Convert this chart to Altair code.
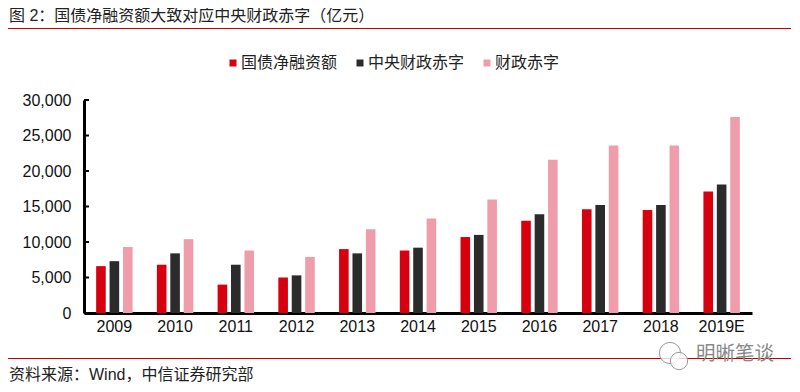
import altair as alt
import pandas as pd

years = ["2009","2010","2011","2012","2013","2014","2015","2016","2017","2018","2019E"]
bond = [6600,6800,4000,5000,9000,8800,10700,13000,14600,14500,17100]
central = [7300,8400,6800,5300,8400,9200,11000,13900,15200,15200,18100]
deficit = [9300,10400,8800,7900,11800,13300,16000,21600,23600,23600,27600]
series = ["国债净融资额","中央财政赤字","财政赤字"]
colors = ["#D7000F","#2B2B2B","#F09DAB"]
y_ticks = [0,5000,10000,15000,20000,25000,30000]
title_text = "图 2：国债净融资额大致对应中央财政赤字（亿元）"
source_text = "资料来源：Wind，中信证券研究部"
watermark = "明晰笔谈"

CJK = "Liberation Sans, Noto Sans CJK SC"
LAT = "Liberation Sans"
L, T = 76, 92  # padding: plot origin at page (84,100)
W, H = 668, 213

rows = []
for i, y in enumerate(years):
    for s, vals in zip(series, [bond, central, deficit]):
        rows.append({"year": y, "series": s, "value": vals[i]})
df = pd.DataFrame(rows)

y_scale = alt.Scale(domain=[0,30000], nice=False)
y_axis = alt.Axis(values=y_ticks, format=",d",
                  labelFont=LAT, labelFontSize=16, labelColor="#111111", grid=False,
                  domainColor="#000000", domainWidth=3, ticks=False,
                  labelPadding=13, labelBaseline="middle")

bars = alt.Chart(df).mark_bar(size=9.6).encode(
    x=alt.X("year:N", sort=years, title=None,
            scale=alt.Scale(paddingInner=0.4, paddingOuter=0.2),
            axis=alt.Axis(labelAngle=0, labelFont=LAT, labelFontSize=16, labelColor="#111111",
                          ticks=False, domainColor="#000000", domainWidth=3, labelPadding=5, grid=False)),
    xOffset=alt.XOffset("series:N", sort=series, scale=alt.Scale(paddingInner=0.284, paddingOuter=0)),
    y=alt.Y("value:Q", title=None, scale=y_scale, axis=y_axis),
    color=alt.Color("series:N", sort=series, scale=alt.Scale(domain=series, range=colors),
                    legend=alt.Legend(orient="none", legendX=225-8-L, legendY=55-8-T, direction="horizontal",
                                      title=None, symbolType="square", symbolSize=49, symbolStrokeWidth=0,
                                      labelFont=CJK, labelFontSize=16, labelColor="#222222",
                                      labelOffset=0, columnPadding=14, symbolOffset=0)),
)

inner_ticks = alt.Chart(pd.DataFrame({"v": y_ticks})).mark_rule(color="#000000", strokeWidth=2).encode(
    y=alt.Y("v:Q", scale=y_scale, axis=y_axis, title=None), x=alt.value(0), x2=alt.value(5))

def label(text, px, py, size, color, font=CJK, align="left"):
    d = pd.DataFrame({"t": [text]})
    return alt.Chart(d).mark_text(align=align, baseline="middle", font=font, fontSize=size, color=color).encode(
        text="t:N", x=alt.value(px - 8 - L), y=alt.value(py - 8 - T))

def hrule(x1, x2, py):
    return alt.Chart(pd.DataFrame({"a": [0]})).mark_rule(color="#C00000", strokeWidth=1).encode(
        x=alt.value(x1 - 8 - L), x2=alt.value(x2 - 8 - L), y=alt.value(py - 8 - T))

def ring(px, py, size):
    return alt.Chart(pd.DataFrame({"a": [0]})).mark_point(shape="circle", filled=True, fill="#FFFFFF", fillOpacity=0.8,
            stroke="#999999", strokeWidth=1, size=size).encode(
        x=alt.value(px - 8 - L), y=alt.value(py - 8 - T))

chart = alt.layer(
    bars, inner_ticks,
    hrule(5, 791, 28.5), hrule(5, 791, 358.5),
    label(title_text, 9, 16, 16, "#222222"),
    label(source_text, 9, 375, 16, "#222222"),
    ring(670, 353, 450), ring(679, 361, 300),
    label(watermark, 696, 354, 19.5, "#888888"),
).properties(width=W, height=H,
             autosize=alt.AutoSizeParams(type="none"),
             padding={"left": L, "top": T, "right": 784 - L - W, "bottom": 376 - T - H}
).configure_view(stroke=None)

chart.save("out.html", embed_options={"renderer": "svg", "actions": False})
